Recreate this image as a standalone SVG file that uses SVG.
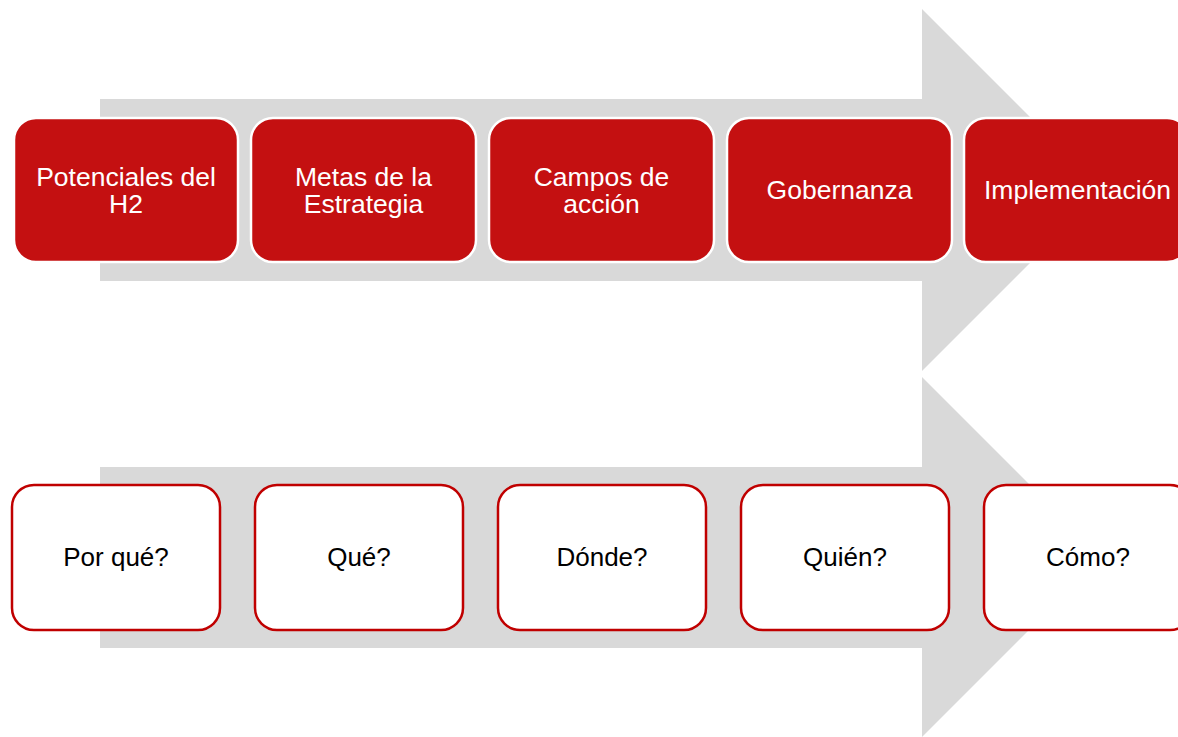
<svg xmlns="http://www.w3.org/2000/svg" width="1178" height="737" viewBox="0 0 1178 737">
<style>
.arrow{fill:#D9D9D9;stroke:none}
.rb{fill:#C41011;stroke:#FFFFFF;stroke-width:2.5}
.wb{fill:#FFFFFF;stroke:#C00000;stroke-width:2.5}
.tw{font-family:"Liberation Sans",Arial,sans-serif;font-size:26.5px;fill:#FFFFFF;text-anchor:middle}
.tk{font-family:"Liberation Sans",Arial,sans-serif;font-size:26px;fill:#000000;text-anchor:middle}
</style>
<g id="arrow-top"><polygon class="arrow" points="100,99 922,99 922,9 1103,190 922,371 922,281 100,281"/></g>
<g id="arrow-bottom"><polygon class="arrow" points="100,467 922,467 922,377 1102,557 922,737 922,648 100,648"/></g>
<g id="connectors"></g>
<g id="n1"><rect class="rb" x="14" y="118" width="224" height="144" rx="22"/><text class="tw" x="126" y="185.5">Potenciales del</text><text class="tw" x="126" y="212.5">H2</text></g>
<g id="n2"><rect class="rb" x="251" y="118" width="225" height="144" rx="22"/><text class="tw" x="363.5" y="185.5">Metas de la</text><text class="tw" x="363.5" y="212.5">Estrategia</text></g>
<g id="n3"><rect class="rb" x="489" y="118" width="225" height="144" rx="22"/><text class="tw" x="601.5" y="185.5">Campos de</text><text class="tw" x="601.5" y="212.5">acción</text></g>
<g id="n4"><rect class="rb" x="727" y="118" width="225" height="144" rx="22"/><text class="tw" x="839.5" y="199">Gobernanza</text></g>
<g id="n5"><rect class="rb" x="964" y="118" width="225" height="144" rx="22"/><text class="tw" x="1077.5" y="199">Implementación</text></g>
<g id="q1"><rect class="wb" x="12" y="485" width="208" height="145" rx="22"/><text class="tk" x="116" y="566">Por qué?</text></g>
<g id="q2"><rect class="wb" x="255" y="485" width="208" height="145" rx="22"/><text class="tk" x="359" y="566">Qué?</text></g>
<g id="q3"><rect class="wb" x="498" y="485" width="208" height="145" rx="22"/><text class="tk" x="602" y="566">Dónde?</text></g>
<g id="q4"><rect class="wb" x="741" y="485" width="208" height="145" rx="22"/><text class="tk" x="845" y="566">Quién?</text></g>
<g id="q5"><rect class="wb" x="984" y="485" width="208" height="145" rx="22"/><text class="tk" x="1088" y="566">Cómo?</text></g>
</svg>
